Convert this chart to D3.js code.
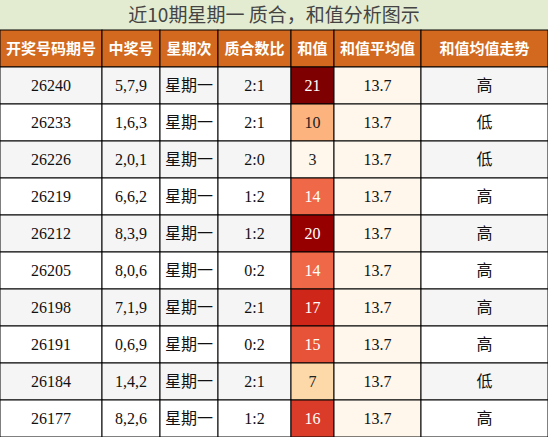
<!DOCTYPE html>
<html><head><meta charset="utf-8">
<script src="https://cdn.jsdelivr.net/npm/d3@7.9.0/dist/d3.min.js"></script>
<style>body{margin:0;background:#fff}</style>
</head><body><svg id="chart" width="548" height="437"></svg>
<script>
const title = '近10期星期一 质合，和值分析图示';
const headers = ['开奖号码期号', '中奖号', '星期次', '质合数比', '和值', '和值平均值', '和值均值走势'];
const issues = ['26240', '26233', '26226', '26219', '26212', '26205', '26198', '26191', '26184', '26177'];
const numbers = ['5,7,9', '1,6,3', '2,0,1', '6,6,2', '8,3,9', '8,0,6', '7,1,9', '0,6,9', '1,4,2', '8,2,6'];
const weekday = '星期一';
const ratios = ['2:1', '2:1', '2:0', '1:2', '1:2', '0:2', '2:1', '0:2', '2:1', '1:2'];
const sums = [21, 10, 3, 14, 20, 14, 17, 15, 7, 16];
const avg = 13.7;
const trends = ['高', '低', '低', '高', '高', '高', '高', '高', '低', '高'];

const svg = d3.select('#chart');
const edges = [0, 102, 160, 218, 291, 334, 421, 548];
const titleH = 30, headH = 37;
const y = d3.scaleBand().domain(d3.range(issues.length)).range([titleH + headH, 437]);
const color = d3.scaleSequential(d3.interpolateOrRd).domain([3, 21]);
const serif = 'Liberation Serif, serif', sans = 'Noto Sans CJK SC, sans-serif';

// title
svg.append('rect').attr('width', 548).attr('height', titleH).attr('fill', '#e3ecd1');
svg.append('text').attr('x', 274).attr('y', 22).attr('text-anchor', 'middle')
  .attr('font-family', sans).attr('font-size', 19).attr('fill', '#444').text(title);

// header
headers.forEach((h, i) => {
  svg.append('rect').attr('x', edges[i]).attr('y', titleH).attr('width', edges[i + 1] - edges[i])
    .attr('height', headH).attr('fill', '#d2691e').attr('stroke', '#000').attr('stroke-width', 1);
  svg.append('text').attr('x', (edges[i] + edges[i + 1]) / 2).attr('y', titleH + headH / 2 + 5.5)
    .attr('text-anchor', 'middle').attr('font-family', sans).attr('font-weight', 'bold')
    .attr('font-size', 15).attr('fill', '#fff').text(h);
});

// rows
issues.forEach((iss, r) => {
  const vals = [iss, numbers[r], weekday, ratios[r], sums[r], avg.toFixed(1), trends[r]];
  const base = r % 2 === 0 ? '#f5f5f5' : '#fff';
  vals.forEach((v, i) => {
    let fill = base, tc = '#111';
    if (i === 4) { fill = color(sums[r]); tc = sums[r] >= 12 ? '#fff' : '#222'; }
    if (i === 5) fill = '#fff7ec';
    svg.append('rect').attr('x', edges[i]).attr('y', y(r)).attr('width', edges[i + 1] - edges[i])
      .attr('height', y.bandwidth()).attr('fill', fill).attr('stroke', '#000').attr('stroke-width', 1);
    const cjk = i === 2 || i === 6;
    svg.append('text').attr('x', (edges[i] + edges[i + 1]) / 2).attr('y', y(r) + y.bandwidth() / 2 + 5.5)
      .attr('text-anchor', 'middle').attr('font-family', cjk ? sans : serif)
      .attr('font-size', 16).attr('fill', tc).text(v);
  });
});
</script></body></html>
